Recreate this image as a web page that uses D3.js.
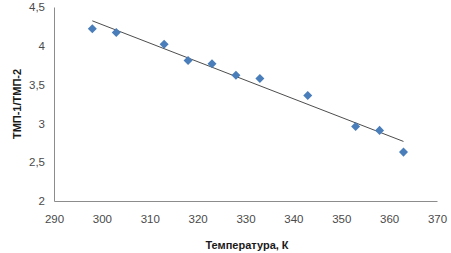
<!DOCTYPE html>
<html>
<head>
<meta charset="utf-8">
<script src="https://cdn.jsdelivr.net/npm/d3@7"></script>
<style>
	body{margin:0;background:#fff;}
	svg{display:block;font-family:"Liberation Sans",Arial,sans-serif;}
	.tick text{fill:#4a4a4a;font-size:11.5px;}
	.axisTitle{font-weight:bold;font-size:11px;fill:#1a1a1a;}
</style>
</head>
<body>
<div id="chart"></div>
<script>
// temperature, K
const temperatures = [298, 303, 313, 318, 323, 328, 333, 343, 353, 358, 363];
// ratio TMP-1/TMP-2
const ratios = [4.22, 4.17, 4.02, 3.81, 3.77, 3.62, 3.58, 3.36, 2.96, 2.91, 2.63];
const xTicks = [290, 300, 310, 320, 330, 340, 350, 360, 370];
const yTicks = [2, 2.5, 3, 3.5, 4, 4.5];

const width = 451, height = 253;
const margin = {left:54, right:14, top:7, bottom:52};

let svg = d3.select("#chart").append("svg")
	.attr("width", width)
	.attr("height", height);

let x = d3.scaleLinear().domain([290, 370]).range([margin.left, width - margin.right]),
	y = d3.scaleLinear().domain([2, 4.5]).range([height - margin.bottom, margin.top]),
	fmt = d => String(d).replace(".", ",");

// x axis
let gx = svg.append("g")
	.attr("transform", "translate(0," + (height - margin.bottom) + ")")
	.call(d3.axisBottom(x).tickValues(xTicks).tickSize(0).tickPadding(14).tickFormat(fmt));
gx.select(".domain").attr("stroke", "#8c8c8c");

// y axis
let gy = svg.append("g")
	.attr("transform", "translate(" + margin.left + ",0)")
	.call(d3.axisLeft(y).tickValues(yTicks).tickSize(0).tickPadding(9).tickFormat(fmt));
gy.select(".domain").attr("stroke", "#8c8c8c");

// linear trendline (least squares)
let mx = d3.mean(temperatures), my = d3.mean(ratios),
	sxy = d3.sum(temperatures, (t, i) => (t - mx) * (ratios[i] - my)),
	sxx = d3.sum(temperatures, t => (t - mx) * (t - mx)),
	slope = sxy / sxx,
	icpt = my - slope * mx,
	xEnds = d3.extent(temperatures);

svg.append("path")
	.datum(xEnds)
	.attr("fill", "none")
	.attr("stroke", "#4d4d4d")
	.attr("stroke-width", 1)
	.attr("d", d3.line().x(d => x(d)).y(d => y(icpt + slope * d)));

// markers
svg.append("g").selectAll("path")
	.data(temperatures)
	.enter().append("path")
	.attr("transform", (d, i) => "translate(" + x(d) + "," + y(ratios[i]) + ")")
	.attr("d", d3.symbol(d3.symbolDiamond2, 52))
	.attr("fill", "#4a7ebb");

// axis titles
svg.append("text")
	.attr("class", "axisTitle")
	.attr("transform", "translate(21," + ((margin.top + height - margin.bottom) / 2) + ") rotate(-90)")
	.attr("text-anchor", "middle")
	.text("ТМП-1/ТМП-2");

svg.append("text")
	.attr("class", "axisTitle")
	.attr("x", 247)
	.attr("y", 249)
	.attr("text-anchor", "middle")
	.text("Температура, К");
</script>
</body>
</html>
